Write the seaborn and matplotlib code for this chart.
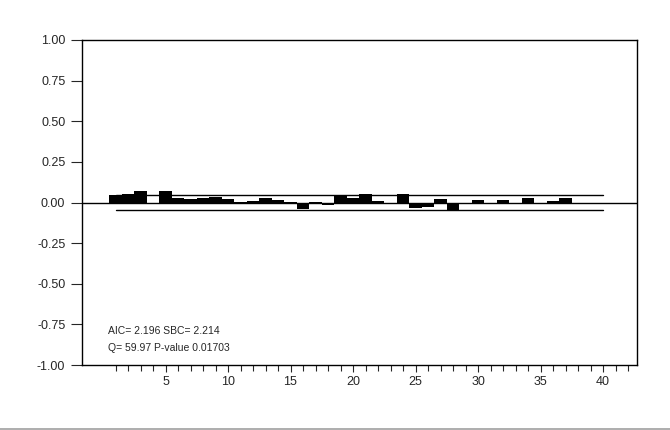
import matplotlib
matplotlib.use("Agg")

import matplotlib.pyplot as plt
import numpy as np
import pandas as pd
import seaborn as sns
from matplotlib.lines import Line2D
from matplotlib.ticker import FixedLocator

# Residual autocorrelations (lags 1..38)
lags = list(range(1, 39))
acf = [0.045, 0.055, 0.068, 0.0, 0.068, 0.025, 0.02, 0.025, 0.035, 0.02,
       0.003, 0.01, 0.025, 0.018, 0.006, -0.04, 0.005, -0.015, 0.038, 0.03,
       0.05, 0.01, -0.006, 0.05, -0.035, -0.025, 0.02, -0.055, 0.0, 0.015,
       -0.012, 0.014, 0.0, 0.027, 0.0, 0.012, 0.026, -0.008]
conf_band = 0.047
band_lags = [1, 40]
x_ticks = [5, 10, 15, 20, 25, 30, 35, 40]
x_minor = list(range(1, 43))
y_ticks = [-1.0, -0.75, -0.5, -0.25, 0.0, 0.25, 0.5, 0.75, 1.0]
stats_text = ["AIC= 2.196 SBC= 2.214", "Q= 59.97 P-value 0.01703"]

df = pd.DataFrame({"lag": lags, "acf": acf})

sns.set_style("white")
plt.rcParams["font.family"] = ["Liberation Sans", "DejaVu Sans"]

fig = plt.figure(figsize=(6.7, 4.3), dpi=100)
ax = fig.add_axes([82 / 670, 1 - 365 / 430, 555 / 670, 325 / 430])

# confidence limits and zero line
ax.plot(band_lags, [conf_band, conf_band], color="black", lw=1.0, zorder=1)
ax.plot(band_lags, [-conf_band, -conf_band], color="black", lw=1.0, zorder=1)
ax.axhline(0, color="black", lw=1.0, zorder=1)

sns.barplot(data=df, x="lag", y="acf", native_scale=True, color="black",
            saturation=1, width=1.0, errorbar=None, ax=ax, zorder=2,
            linewidth=0)

ax.set_xlim(-1.68, 42.72)
ax.set_ylim(-1.0, 1.0)
ax.set_xticks(x_ticks)
ax.set_xticklabels([str(t) for t in x_ticks])
ax.xaxis.set_minor_locator(FixedLocator(x_minor))
ax.set_yticks(y_ticks)
ax.set_yticklabels([f"{t:.2f}" for t in y_ticks])
ax.set_xlabel("")
ax.set_ylabel("")

ax.tick_params(axis="x", which="major", direction="out", length=5, width=0.8,
               labelsize=9, pad=3, bottom=True)
ax.tick_params(axis="x", which="minor", direction="out", length=4, width=0.8,
               bottom=True)
ax.tick_params(axis="y", direction="out", length=8, width=0.8,
               labelsize=9, pad=4, left=True)

for side in ["left", "right", "top", "bottom"]:
    ax.spines[side].set_visible(True)
    ax.spines[side].set_color("black")
    ax.spines[side].set_linewidth(1.0)

ax.text(0.047, 0.105, stats_text[0], transform=ax.transAxes, fontsize=7.5,
        va="center", ha="left")
ax.text(0.047, 0.052, stats_text[1], transform=ax.transAxes, fontsize=7.5,
        va="center", ha="left")

fig.add_artist(Line2D([0, 1], [1 - 429 / 430, 1 - 429 / 430],
                      transform=fig.transFigure, color="#a0a0a0", lw=1.2))

fig.savefig("out.png", dpi=100)
